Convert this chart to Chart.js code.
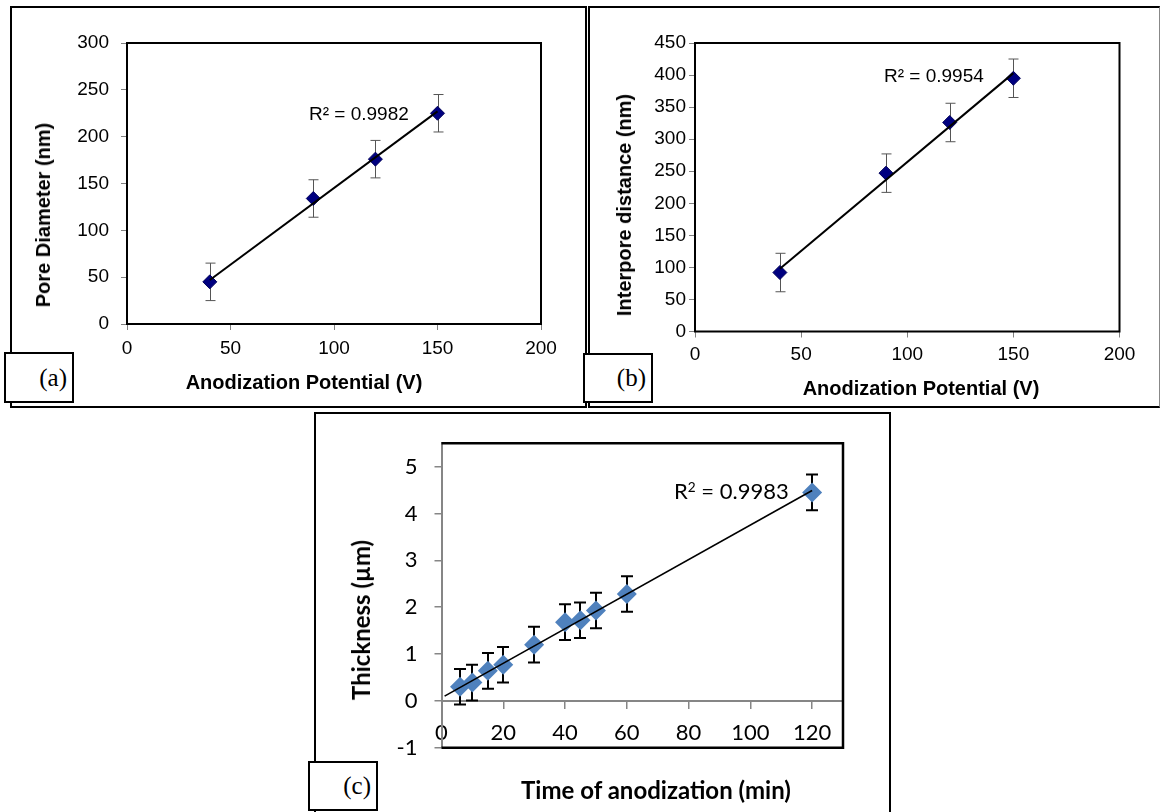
<!DOCTYPE html>
<html><head><meta charset="utf-8">
<script src="https://cdn.jsdelivr.net/npm/chart.js@4.4.0/dist/chart.umd.min.js"></script>
<style>
body{margin:0;background:#fff;width:1163px;height:812px;position:relative;overflow:hidden}
.frame{position:absolute;border:2px solid #000;box-sizing:border-box}
.lbl{position:absolute;border:2px solid #000;background:#fff;box-sizing:border-box;font-family:"Liberation Serif","Times New Roman",serif;font-size:25px;display:flex;align-items:center;justify-content:flex-end;padding-right:5px;z-index:5;color:#000}
.ttl{position:absolute;white-space:nowrap;font-weight:bold;color:#000;line-height:1}
.yt{transform:translate(-50%,-50%) rotate(-90deg)}
.xt{transform:translate(-50%,-50%)}
.r2{position:absolute;white-space:nowrap;color:#000;line-height:1;transform:translateY(-50%)}
.arial{font-family:"Liberation Sans",Arial,sans-serif}
.cal{font-family:Lato,"Open Sans",sans-serif}
canvas{position:absolute}
</style></head>
<body>
<div class="frame" style="left:10px;top:6px;width:577px;height:402px"></div>
<div class="frame" style="left:588px;top:6px;width:572px;height:402px;border-right:1px solid #888"></div>
<div class="frame" style="left:314px;top:412px;width:577px;height:420px"></div>

<canvas id="ca" width="590" height="410" style="left:0;top:0"></canvas>
<canvas id="cb" width="573" height="410" style="left:590px;top:0"></canvas>
<canvas id="cc" width="574" height="399" style="left:316px;top:413px"></canvas>

<div class="ttl arial yt" style="left:43px;top:215px;font-size:20px">Pore Diameter (nm)</div>
<div class="ttl arial xt" style="left:304px;top:382px;font-size:20px">Anodization Potential (V)</div>
<div class="r2 arial" style="left:309px;top:113px;font-size:19px">R² = 0.9982</div>

<div class="ttl arial yt" style="left:624px;top:205px;font-size:20px">Interpore distance (nm)</div>
<div class="ttl arial xt" style="left:921px;top:388px;font-size:20px">Anodization Potential (V)</div>
<div class="r2 arial" style="left:884px;top:75px;font-size:19px">R² = 0.9954</div>

<div class="ttl cal yt" style="left:361px;top:620px;font-size:24px">Thickness (µm)</div>
<div class="ttl cal xt" style="left:656px;top:790px;font-size:24px">Time of anodization (min)</div>
<div class="r2 cal" style="left:674px;top:491px;font-size:22px">R<sup style="font-size:0.62em;vertical-align:0.55em;line-height:0">2</sup> = 0.9983</div>

<div class="lbl" style="left:4px;top:352px;width:70px;height:51px">(a)</div>
<div class="lbl" style="left:583px;top:353px;width:70px;height:50px">(b)</div>
<div class="lbl" style="left:308px;top:761px;width:70px;height:50px">(c)</div>

<script>
// ---- Data (a) ----
const voltsA = [40, 90, 120, 150];
const poreDiameter = [45, 134, 176, 225];
const poreErr = [20, 20, 20, 20];
const trendAx = [40, 150];
const trendAy = [47, 227];
const xTicksA = [0, 50, 100, 150, 200];
const yTicksA = [0, 50, 100, 150, 200, 250, 300];

// ---- Data (b) ----
const voltsB = [40, 90, 120, 150];
const interpore = [92, 247, 326, 395];
const interporeErr = [30, 30, 30, 30];
const trendBx = [40, 150];
const trendBy = [98, 403];
const xTicksB = [0, 50, 100, 150, 200];
const yTicksB = [0, 50, 100, 150, 200, 250, 300, 350, 400, 450];

// ---- Data (c) ----
const timeC = [6, 10, 15, 20, 30, 40, 45, 50, 60, 120];
const thickness = [0.30, 0.39, 0.64, 0.77, 1.20, 1.68, 1.72, 1.93, 2.28, 4.45];
const thicknessErr = [0.38, 0.38, 0.38, 0.38, 0.38, 0.38, 0.38, 0.38, 0.38, 0.38];
const trendCx = [1, 120];
const trendCy = [0.10, 4.49];
const xTicksC = [0, 20, 40, 60, 80, 100, 120];
const yTicksC = [-1, 0, 1, 2, 3, 4, 5];

const pts = (xs, ys) => xs.map((v, i) => ({x: v, y: ys[i]}));

const errorBars = {
  id: 'errorBars',
  beforeDatasetsDraw(chart, args, o) {
    const {ctx} = chart, x = chart.scales.x, y = chart.scales.y;
    const ds = chart.data.datasets[o.datasetIndex];
    ctx.save();
    ctx.strokeStyle = o.color; ctx.lineWidth = o.width;
    ds.data.forEach((p, i) => {
      const px = Math.round(x.getPixelForValue(p.x)) + (o.width % 2 ? 0.5 : 0);
      const t = y.getPixelForValue(p.y + o.errors[i]);
      const b = y.getPixelForValue(p.y - o.errors[i]);
      ctx.beginPath();
      ctx.moveTo(px, t); ctx.lineTo(px, b);
      ctx.moveTo(px - o.cap, t); ctx.lineTo(px + o.cap, t);
      ctx.moveTo(px - o.cap, b); ctx.lineTo(px + o.cap, b);
      ctx.stroke();
    });
    ctx.restore();
  }
};
const frame = {
  id: 'frame',
  afterDatasetsDraw(chart, args, o) {
    const {ctx, chartArea: a} = chart;
    ctx.save();
    ctx.strokeStyle = '#000'; ctx.lineWidth = o.width;
    ctx.beginPath();
    if (o.noLeft) {
      ctx.moveTo(a.left, a.top); ctx.lineTo(a.right, a.top);
      ctx.lineTo(a.right, a.bottom); ctx.lineTo(a.left, a.bottom);
    } else {
      ctx.rect(a.left, a.top, a.right - a.left, a.bottom - a.top);
    }
    ctx.stroke();
    ctx.restore();
  }
};

function tickFilter(list) {
  return function (scale) { scale.ticks = list.map(v => ({value: v})); };
}

function makeAB(id, xs, ys, errs, tx, ty, xT, yT, ymax, pad, yW, xH, yPad, xPad) {
  const font = {family: "'Liberation Sans', Arial, sans-serif", size: 19};
  return new Chart(document.getElementById(id), {
    type: 'scatter',
    data: {datasets: [
      {data: pts(tx, ty), showLine: true, borderColor: '#000', borderWidth: 2, pointRadius: 0, order: 0},
      {data: pts(xs, ys), pointStyle: 'rectRot', pointRadius: 7, pointHoverRadius: 7,
       backgroundColor: '#000080', borderColor: '#00005a', borderWidth: 1, order: 1}
    ]},
    options: {
      responsive: false, animation: false, devicePixelRatio: 1,
      events: [],
      layout: {padding: pad, autoPadding: false},
      plugins: {legend: {display: false}, tooltip: {enabled: false},
        errorBars: {datasetIndex: 1, errors: errs, color: '#555', width: 1, cap: 5},
        frame: {width: 2}},
      scales: {
        x: {type: 'linear', min: 0, max: 200,
            afterBuildTicks: tickFilter(xT),
            ticks: {font, color: '#000', padding: xPad},
            grid: {drawOnChartArea: false, drawTicks: true, tickLength: 6, color: '#808080', lineWidth: 1},
            border: {display: false},
            afterFit(s) { s.height = xH; }},
        y: {type: 'linear', min: 0, max: ymax,
            afterBuildTicks: tickFilter(yT),
            ticks: {font, color: '#000', padding: yPad},
            grid: {drawOnChartArea: false, drawTicks: true, tickLength: 6, color: '#808080', lineWidth: 1},
            border: {display: false},
            afterFit(s) { s.width = yW; }}
      }
    },
    plugins: [errorBars, frame]
  });
}

makeAB('ca', voltsA, poreDiameter, poreErr, trendAx, trendAy, xTicksA, yTicksA, 300,
  {left: 0, top: 43, right: 49, bottom: 0}, 127, 86, 12, 7);
makeAB('cb', voltsB, interpore, interporeErr, trendBx, trendBy, xTicksB, yTicksB, 450,
  {left: 0, top: 43, right: 43.5, bottom: 0}, 105, 78.5, 3, 6);

const fontC = {family: "Lato, 'Open Sans', sans-serif", size: 22};
new Chart(document.getElementById('cc'), {
  type: 'scatter',
  data: {datasets: [
    {data: pts(trendCx, trendCy), showLine: true, borderColor: '#000', borderWidth: 1.6, pointRadius: 0, order: 0},
    {data: pts(timeC, thickness), pointStyle: 'rectRot', pointRadius: 10, pointHoverRadius: 10,
     backgroundColor: '#4F81BD', borderColor: '#4F81BD', borderWidth: 0, order: 1}
  ]},
  options: {
    responsive: false, animation: false, devicePixelRatio: 1,
    events: [],
    layout: {padding: {left: 0, top: 28.2, right: 47, bottom: 64.3}, autoPadding: false},
    plugins: {legend: {display: false}, tooltip: {enabled: false},
      errorBars: {datasetIndex: 1, errors: thicknessErr, color: '#000', width: 2, cap: 6},
      frame: {width: 2.5, noLeft: true}},
    scales: {
      x: {type: 'linear', min: 0, max: 130, position: {y: 0},
          afterBuildTicks: tickFilter(xTicksC),
          ticks: {font: fontC, color: '#000', padding: 12},
          grid: {drawOnChartArea: false, drawTicks: true, tickLength: 7, color: '#868686', lineWidth: 1.5},
          border: {display: true, color: '#868686', width: 2}},
      y: {type: 'linear', min: -1, max: 5.5,
          afterBuildTicks: tickFilter(yTicksC),
          ticks: {font: fontC, color: '#000', padding: 17},
          grid: {drawOnChartArea: false, drawTicks: true, tickLength: 7, color: '#868686', lineWidth: 1.5},
          border: {display: true, color: '#868686', width: 2},
          afterFit(s) { s.width = 125.5; }}
    }
  },
  plugins: [errorBars, frame]
});
</script>
</body></html>
